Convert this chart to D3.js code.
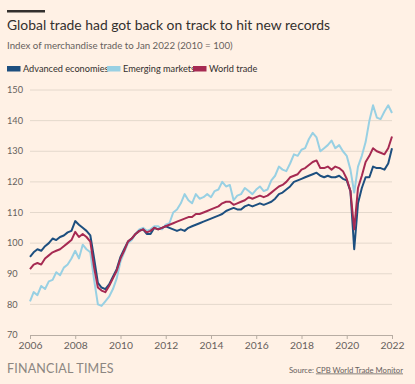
<!DOCTYPE html>
<html>
<head>
<meta charset="utf-8">
<script src="https://cdn.jsdelivr.net/npm/d3@7"></script>
<style>
  body { margin: 0; background: #fff1e5; }
  svg { display: block; }
  text { font-family: Lato, "Open Sans", sans-serif; }
</style>
</head>
<body>
<svg id="chart" width="415" height="384"></svg>
<script>
// bi-monthly readings, Jan 2006 .. Jan 2022
const months = [
  "2006-01","2006-03","2006-05","2006-07","2006-09","2006-11",
  "2007-01","2007-03","2007-05","2007-07","2007-09","2007-11",
  "2008-01","2008-03","2008-05","2008-07","2008-09","2008-11",
  "2009-01","2009-03","2009-05","2009-07","2009-09","2009-11",
  "2010-01","2010-03","2010-05","2010-07","2010-09","2010-11",
  "2011-01","2011-03","2011-05","2011-07","2011-09","2011-11",
  "2012-01","2012-03","2012-05","2012-07","2012-09","2012-11",
  "2013-01","2013-03","2013-05","2013-07","2013-09","2013-11",
  "2014-01","2014-03","2014-05","2014-07","2014-09","2014-11",
  "2015-01","2015-03","2015-05","2015-07","2015-09","2015-11",
  "2016-01","2016-03","2016-05","2016-07","2016-09","2016-11",
  "2017-01","2017-03","2017-05","2017-07","2017-09","2017-11",
  "2018-01","2018-03","2018-05","2018-07","2018-09","2018-11",
  "2019-01","2019-03","2019-05","2019-07","2019-09","2019-11",
  "2020-01","2020-03","2020-05","2020-07","2020-09","2020-11",
  "2021-01","2021-03","2021-05","2021-07","2021-09","2021-11",
  "2022-01"
];

const advanced = [
  95.5, 97, 98, 97.5, 99, 100,
  101.5, 101, 102, 102.5, 103.5, 104,
  107.2, 106, 105, 104, 102.5, 95,
  87, 85.5, 85, 86.5, 89, 91.5,
  95.5, 98, 100.5, 101.5, 103, 104,
  104.5, 103, 103, 105, 104.5, 105,
  105.5, 105, 104.5, 104, 104.5, 104,
  105, 105.5, 106, 106.5, 107, 107.5,
  108, 108.5, 109, 109.5, 110.5, 111,
  111.5, 111, 111, 112, 112.5, 112,
  112.5, 113, 112.5, 113, 113.5, 114.5,
  116, 116.5, 117.5, 118.5, 120, 120.5,
  121, 121.5, 122, 122.5, 123, 122,
  121.5, 122, 121.5, 121.5, 122, 121,
  120.5, 117, 98, 113, 118, 121.5,
  121.5, 125, 124.5, 124.5, 124, 126,
  131
];

const emerging = [
  81, 84, 83, 86, 85, 87.5,
  88, 90.5, 89.5, 92, 93, 95,
  97.5, 95, 99.5, 98, 97, 88,
  80, 79.5, 81, 82.5, 85, 88.5,
  94, 97, 100, 101, 103, 104.5,
  105, 104, 104.5, 105.5, 105.5, 104.5,
  106, 106.5, 110, 111, 113, 116,
  114, 113, 116, 114.5, 115, 116,
  115, 117, 117.5, 120, 118.5, 119,
  114, 115.5, 116, 118, 117, 116,
  117.5, 118.5, 117, 117.5, 120.5, 122,
  125, 124, 123.5, 126, 129, 128.5,
  130.5, 131, 134, 136, 134.5, 130,
  131, 132, 133.5, 131, 132, 130,
  128.5, 124, 116.5, 125, 128.5, 133,
  140, 145, 141, 140.5, 143, 145,
  142.5
];

const world = [
  91.5, 93, 93.5, 93, 95, 96,
  97, 97.5, 98, 99, 100, 101,
  103.7, 102, 103, 102, 100.5, 92,
  85.5, 84.5, 84, 86, 88.5, 91,
  95, 97.5, 100.5, 101.5, 103, 104,
  104.5, 103.5, 104, 105, 104.5, 105,
  105.5, 106, 106.5, 107, 107.5, 108,
  108.5, 108.5, 109.5, 109.5, 110, 110.5,
  111, 111.5, 112, 113, 113.5, 113.5,
  112.5, 113, 113.5, 114, 115, 114.5,
  115, 115.5, 115, 115.5, 116.5, 117.5,
  118.5, 119, 120, 121.5, 122, 122.5,
  124, 124.5, 125.5, 126.5, 127, 124.5,
  124.5, 125, 124, 125, 124.5, 123.5,
  121, 117, 104.5, 118, 122, 126.5,
  128.5, 131, 130, 129.5, 129, 131,
  134.8
];

const yTicks = [70, 80, 90, 100, 110, 120, 130, 140, 150];
const xTickYears = [2006, 2008, 2010, 2012, 2014, 2016, 2018, 2020, 2022];

const seriesNames = ["Advanced economies", "Emerging markets", "World trade"];
const seriesColors = ["#1d4f7f", "#98d0e3", "#a62a52"];

const svg = d3.select("#chart");
const parse = d3.timeParse("%Y-%m");
const dates = months.map(parse);

const x = d3.scaleTime()
  .domain([new Date(2006, 0, 1), new Date(2022, 0, 1)])
  .range([30, 392]);
const y = d3.scaleLinear()
  .domain([70, 150])
  .range([335, 90]);

// top rule + titles
svg.append("rect").attr("x", 7).attr("y", 10).attr("width", 38).attr("height", 2.5).attr("fill", "#33302e");

svg.append("text")
  .attr("x", 7).attr("y", 29.5)
  .attr("font-size", 13.9).attr("fill", "#33302e")
  .text("Global trade had got back on track to hit new records");

svg.append("text")
  .attr("x", 7).attr("y", 48.5)
  .attr("font-size", 9.7).attr("fill", "#66605c")
  .text("Index of merchandise trade to Jan 2022 (2010 = 100)");

// legend
const legendX = [7, 107, 193];
seriesNames.forEach(function(name, i) {
  const g = svg.append("g").attr("transform", "translate(" + legendX[i] + ",0)");
  g.append("rect").attr("x", 0).attr("y", 66).attr("width", 13.5).attr("height", 5.5).attr("fill", seriesColors[i]);
  g.append("text").attr("x", 16).attr("y", 72)
    .attr("font-size", 9.2).attr("fill", "#33302e")
    .text(name);
});

// gridlines
svg.append("g")
  .selectAll("line")
  .data(yTicks.filter(function(t) { return t != 70; }))
  .enter().append("line")
  .attr("x1", 30).attr("x2", 392)
  .attr("y1", function(d) { return y(d); })
  .attr("y2", function(d) { return y(d); })
  .attr("stroke", "#e4d8cc").attr("stroke-width", 1);

svg.append("g")
  .selectAll("text")
  .data(yTicks)
  .enter().append("text")
  .attr("x", 7)
  .attr("y", function(d) { return y(d); })
  .attr("dy", "0.35em")
  .attr("font-size", 9.2).attr("fill", "#66605c")
  .text(function(d) { return d; });

// x axis
const xAxis = d3.axisBottom(x)
  .tickValues(xTickYears.map(function(yr) { return new Date(yr, 0, 1); }))
  .tickFormat(d3.timeFormat("%Y"))
  .tickSize(4)
  .tickPadding(3);
const gx = svg.append("g").attr("transform", "translate(0,335)").call(xAxis);
gx.select(".domain").attr("stroke", "#b8ada3");
gx.selectAll(".tick line").attr("stroke", "#b8ada3");
gx.selectAll(".tick text").attr("font-size", 10.3).attr("fill", "#66605c")
  .attr("font-family", "Lato, 'Open Sans', sans-serif");

// lines
const line = d3.line()
  .x(function(d, i) { return x(dates[i]); })
  .y(function(d) { return y(d); });

const drawOrder = [[emerging, 1], [advanced, 0], [world, 2]];
drawOrder.forEach(function(s) {
  svg.append("path")
    .datum(s[0])
    .attr("d", line)
    .attr("fill", "none")
    .attr("stroke", seriesColors[s[1]])
    .attr("stroke-width", 2)
    .attr("stroke-linejoin", "round");
});

// footer
svg.append("text")
  .attr("x", 7).attr("y", 373)
  .attr("font-family", "'Liberation Serif', 'DejaVu Serif', serif")
  .attr("font-size", 12.5).attr("fill", "#8c8681")
  .attr("letter-spacing", 0.2)
  .text("FINANCIAL TIMES");

const src = svg.append("text")
  .attr("x", 403).attr("y", 372.5)
  .attr("text-anchor", "end")
  .attr("font-size", 7.7).attr("fill", "#66605c");
src.append("tspan").text("Source: ");
src.append("tspan").attr("text-decoration", "underline").text("CPB World Trade Monitor");
</script>
</body>
</html>
